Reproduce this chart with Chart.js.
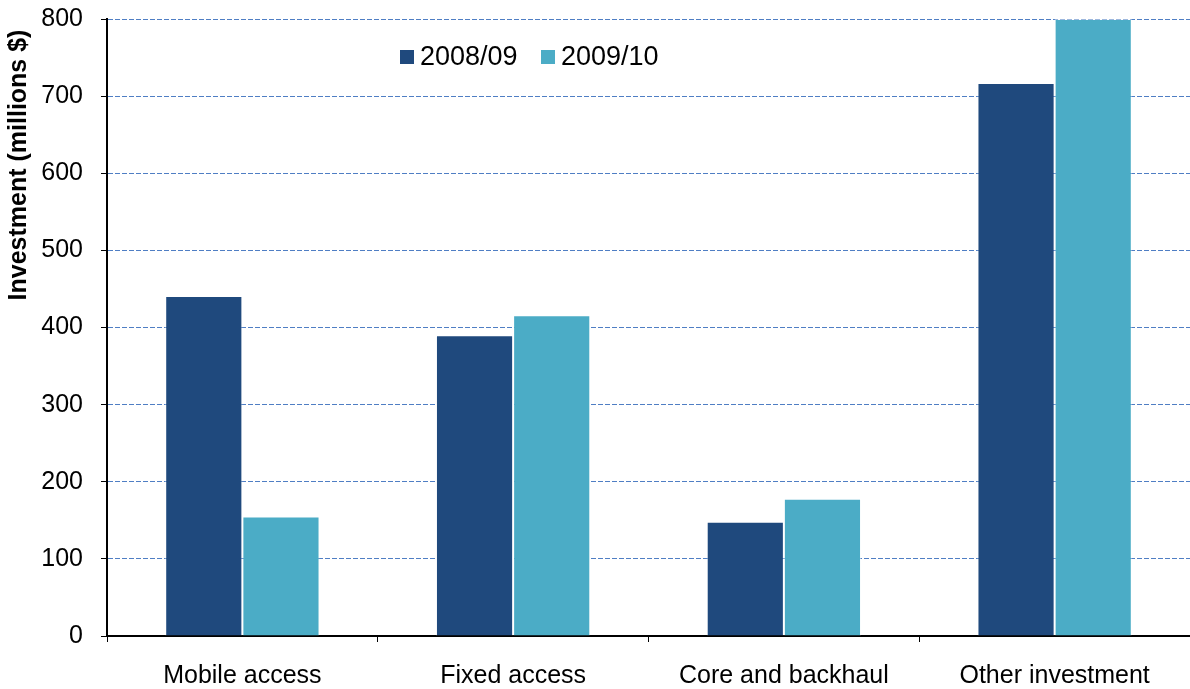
<!DOCTYPE html>
<html>
<head>
<meta charset="utf-8">
<script src="https://cdn.jsdelivr.net/npm/chart.js@4.4.1/dist/chart.umd.min.js"></script>
<style>
  html, body { margin: 0; padding: 0; background: #fff; }
  #wrap { width: 1190px; height: 689px; }
</style>
</head>
<body>
<div id="wrap"><canvas id="chart" width="1190" height="689"></canvas></div>
<script>
let categories = ["Mobile access", "Fixed access", "Core and backhaul", "Other investment"];
let series2008 = [441, 390, 148, 717];
let series2009 = [155, 416, 178, 800];
let yTicks = [0, 100, 200, 300, 400, 500, 600, 700, 800];

let font = "'Liberation Sans', Arial, sans-serif";

// legend drawn inside the plot, near the top
let innerLegend = {
  id: "innerLegend",
  afterDraw(chart) {
    let ctx = chart.ctx;
    let items = [
      { x: 400, label: chart.data.datasets[0].label, color: chart.data.datasets[0].backgroundColor },
      { x: 541, label: chart.data.datasets[1].label, color: chart.data.datasets[1].backgroundColor },
    ];
    ctx.save();
    ctx.font = "27px " + font;
    ctx.textBaseline = "middle";
    items.forEach((it) => {
      ctx.fillStyle = it.color;
      ctx.fillRect(it.x, 50, 14, 14);
      ctx.fillStyle = "#000";
      ctx.fillText(it.label, it.x + 20, 58);
    });
    ctx.restore();
  },
};

// y axis title, rotated
let yTitle = {
  id: "yTitle",
  afterDraw(chart) {
    let ctx = chart.ctx;
    ctx.save();
    ctx.translate(19, 165);
    ctx.rotate(-Math.PI / 2);
    ctx.font = "bold 25px " + font;
    ctx.textAlign = "center";
    ctx.textBaseline = "middle";
    ctx.fillStyle = "#000";
    ctx.fillText("Investment (millions $)", 0, 0);
    ctx.restore();
  },
};

let chart = new Chart(document.getElementById("chart").getContext("2d"), {
  type: "bar",
  data: {
    labels: categories,
    datasets: [
      {
        label: "2008/09",
        data: series2008,
        backgroundColor: "#1F497D",
        borderColor: "rgba(255,255,255,0.45)",
        borderWidth: 1,
        categoryPercentage: 0.57,
        barPercentage: 1,
      },
      {
        label: "2009/10",
        data: series2009,
        backgroundColor: "#4BACC6",
        borderColor: "rgba(255,255,255,0.45)",
        borderWidth: 1,
        categoryPercentage: 0.57,
        barPercentage: 1,
      },
    ],
  },
  options: {
    responsive: false,
    animation: false,
    layout: { padding: { top: 19, right: 0, left: 0, bottom: 0 } },
    plugins: {
      legend: { display: false },
      tooltip: { enabled: false },
    },
    scales: {
      x: {
        grid: {
          offset: true,
          drawOnChartArea: false,
          drawTicks: true,
          tickLength: 6,
          tickColor: "#000",
        },
        border: { color: "#000", width: 2 },
        ticks: {
          color: "#000",
          font: { family: font, size: 25 },
          padding: 19,
          maxRotation: 0,
          autoSkip: false,
        },
        afterFit(scale) {
          scale.height = 53;
          scale.paddingLeft = 0;
          scale.paddingRight = 0;
        },
      },
      y: {
        min: 0,
        max: 800,
        afterBuildTicks(scale) {
          scale.ticks = yTicks.map((v) => ({ value: v }));
        },
        grid: {
          color: "#4F7EC4",
          lineWidth: 1,
          drawTicks: true,
          tickLength: 6,
          tickColor: "#000",
          tickBorderDash: [],
        },
        border: { color: "#000", width: 2, dash: [5, 2] },
        ticks: {
          color: "#000",
          font: { family: font, size: 25 },
          padding: 18,
        },
        afterFit(scale) {
          scale.width = 107;
          scale.paddingTop = 0;
          scale.paddingBottom = 0;
        },
      },
    },
  },
  plugins: [innerLegend, yTitle],
});
</script>
</body>
</html>
